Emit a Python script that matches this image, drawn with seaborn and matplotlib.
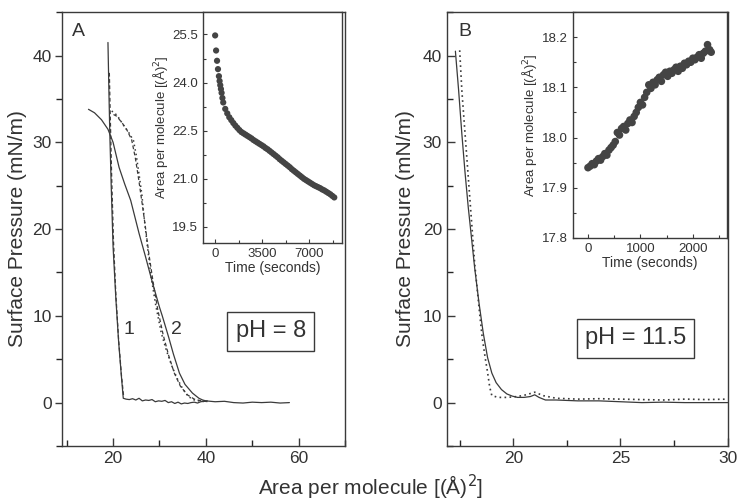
import numpy as np
import pandas as pd
import matplotlib
matplotlib.use("Agg")
import matplotlib.pyplot as plt
from matplotlib.ticker import AutoMinorLocator, MultipleLocator
import seaborn as sns

sns.set_theme(style="ticks")
plt.rcParams['font.family'] = ['Liberation Sans', 'DejaVu Sans']

# ---------------- Panel A data (pH = 8) ----------------
a1_solid_x = [18.9, 19.1, 19.3, 19.6, 20.0, 20.6, 21.2, 21.8, 22.2, 22.8, 23.5, 24.2, 24.9, 25.6,
              26.3, 27.0, 27.7, 28.4, 29.1, 29.8, 30.5, 31.2, 31.9, 32.6, 33.3, 34.0, 34.7,
              35.4, 36.1, 36.8, 37.5, 38.2, 38.9, 39.6, 40.3]
a1_solid_y = [41.5, 36.0, 31.0, 25.0, 18.0, 12.0, 7.0, 3.0, 0.5, 0.4, 0.35, 0.45, 0.3, 0.5,
              0.2, 0.3, 0.25, 0.35, 0.1, 0.2, 0.15, 0.25, 0.0, 0.1, -0.1, 0.05, -0.15,
              -0.05, -0.1, 0.0, 0.05, -0.05, 0.1, 0.15, 0.2]
a1_dash_x = [19.2, 19.4, 19.7, 20.1, 20.6, 21.2, 21.8, 22.3]
a1_dash_y = [38.0, 33.0, 26.0, 18.5, 12.5, 7.2, 3.2, 0.6]

a2_solid_x = [14.7, 16.0, 17.5, 18.9, 20.0, 21.3, 22.5, 23.8, 25.6, 27.0, 28.5, 30.0, 30.6,
              32.0, 33.0, 34.3, 35.5, 37.1, 38.5, 39.3, 40.0, 42.0, 44.0, 46.0, 48.0, 50.0,
              52.0, 54.0, 56.0, 58.0]
a2_solid_y = [33.8, 33.4, 32.6, 31.5, 30.0, 27.1, 25.2, 23.3, 19.5, 16.8, 13.8, 11.0, 10.0,
              7.5, 5.6, 3.4, 2.1, 1.1, 0.5, 0.3, 0.2, 0.1, 0.15, 0.0, -0.05, 0.05, 0.0,
              0.05, -0.05, 0.0]
a2_dot_x = [19.7, 20.3, 21.0, 22.2, 23.3, 24.4, 25.0, 25.6, 26.2, 26.6, 27.4, 28.2, 29.2,
            30.4, 31.5, 32.6, 33.8, 35.0, 36.2, 37.5, 38.5, 40.0]
a2_dot_y = [33.6, 33.4, 33.0, 32.0, 31.2, 30.2, 28.5, 26.3, 24.0, 21.8, 18.0, 14.5, 11.2,
            8.0, 6.0, 4.3, 2.8, 1.6, 0.7, 0.3, 0.2, 0.1]
a2_dash_x = [20.1, 20.8, 22.0, 23.0, 24.0, 24.8, 25.5, 26.2, 26.9, 27.7, 28.6, 29.6, 30.8,
             32.0, 33.2, 34.5, 36.0, 37.5, 39.0, 40.5]
a2_dash_y = [33.2, 33.0, 32.2, 31.4, 30.3, 28.2, 25.8, 23.2, 20.5, 17.2, 14.0, 10.8, 7.8,
             5.4, 3.4, 1.9, 0.9, 0.4, 0.2, 0.1]

# inset A: area vs time
insA_t = [0, 70, 140, 210, 280, 330, 380, 430, 480, 540, 600, 750, 900, 1050, 1200, 1350,
          1500, 1650, 1800, 1950, 2100, 2250, 2400, 2550, 2700, 2850, 3000, 3150, 3300,
          3450, 3600, 3750, 3900, 4050, 4200, 4350, 4500, 4650, 4800, 4950, 5100, 5250,
          5400, 5550, 5700, 5850, 6000, 6150, 6300, 6450, 6600, 6750, 6900, 7050, 7200,
          7350, 7500, 7650, 7800, 7950, 8100, 8250, 8400, 8550, 8700, 8850]
insA_a = [25.47, 25.0, 24.68, 24.42, 24.2, 24.05, 23.92, 23.8, 23.68, 23.52, 23.38, 23.18,
          23.04, 22.92, 22.83, 22.74, 22.66, 22.59, 22.52, 22.46, 22.42, 22.38, 22.34,
          22.30, 22.26, 22.21, 22.17, 22.13, 22.09, 22.05, 22.01, 21.96, 21.92, 21.87,
          21.82, 21.77, 21.72, 21.67, 21.61, 21.56, 21.51, 21.46, 21.41, 21.36, 21.30,
          21.25, 21.20, 21.15, 21.10, 21.05, 21.00, 20.96, 20.92, 20.88, 20.84, 20.80,
          20.77, 20.74, 20.71, 20.67, 20.64, 20.60, 20.56, 20.52, 20.47, 20.42]

# ---------------- Panel B data (pH = 11.5) ----------------
b_solid_x = [17.3, 17.45, 17.6, 17.75, 17.9, 18.05, 18.2, 18.4, 18.6, 18.8, 19.0, 19.2,
             19.45, 19.7, 19.95, 20.2, 20.5, 20.8, 21.0, 21.2, 21.5, 22.0, 22.5, 23.0,
             24.0, 25.0, 26.0, 27.0, 28.0, 29.0, 30.0]
b_solid_y = [40.5, 36.0, 31.0, 26.5, 22.5, 19.0, 15.5, 11.5, 8.0, 5.2, 3.4, 2.3, 1.5, 1.0,
             0.75, 0.6, 0.6, 0.7, 0.9, 0.6, 0.3, 0.3, 0.25, 0.2, 0.2, 0.1, 0.0, 0.05, 0.0,
             0.0, 0.0]
b_dot_x = [17.5, 17.6, 17.75, 17.9, 18.05, 18.2, 18.4, 18.55, 18.7, 18.8, 18.9, 19.0, 19.3,
           19.7, 20.2, 20.6, 21.0, 21.4, 22.0, 23.0, 24.0, 25.0, 26.0, 27.0, 28.0, 29.0, 30.0]
b_dot_y = [40.6, 36.0, 31.0, 26.0, 21.0, 16.0, 11.0, 7.5, 5.0, 3.5, 1.8, 0.8, 0.6, 0.6, 0.7,
           0.9, 1.2, 0.8, 0.5, 0.4, 0.45, 0.4, 0.35, 0.3, 0.4, 0.35, 0.4]

insB_t = [0, 40, 80, 120, 160, 200, 240, 280, 320, 360, 400, 440, 480, 520, 560, 600, 640,
          680, 720, 760, 800, 840, 880, 920, 960, 1000, 1040, 1080, 1120, 1160, 1200, 1240,
          1280, 1320, 1360, 1400, 1440, 1480, 1520, 1560, 1600, 1640, 1680, 1720, 1760,
          1800, 1840, 1880, 1920, 1960, 2000, 2040, 2080, 2120, 2160, 2200, 2240, 2280,
          2320, 2350]
insB_a = [17.940, 17.943, 17.948, 17.946, 17.953, 17.958, 17.955, 17.962, 17.968, 17.965,
          17.975, 17.980, 17.985, 17.992, 18.010, 18.005, 18.018, 18.022, 18.015, 18.028,
          18.035, 18.030, 18.042, 18.050, 18.060, 18.070, 18.065, 18.080, 18.090, 18.105,
          18.098, 18.110, 18.105, 18.115, 18.120, 18.112, 18.125, 18.130, 18.122, 18.132,
          18.128, 18.135, 18.140, 18.132, 18.142, 18.138, 18.148, 18.145, 18.152, 18.150,
          18.158, 18.155, 18.160, 18.165, 18.158, 18.168, 18.172, 18.185, 18.175, 18.170]

INK = "#3a3a3a"
TXT = "#333333"

fig = plt.figure(figsize=(7.41, 5.01), dpi=100)
axA = fig.add_axes([0.0837, 0.1098, 0.382, 0.866])
axB = fig.add_axes([0.603, 0.1098, 0.379, 0.866])
insA = fig.add_axes([0.274, 0.515, 0.188, 0.461])
insB = fig.add_axes([0.773, 0.525, 0.208, 0.451])

def line(ax, x, y, ls, lw=1.0):
    df = pd.DataFrame({"x": x, "y": y})
    sns.lineplot(data=df, x="x", y="y", ax=ax, color=INK, linestyle=ls, linewidth=lw,
                 estimator=None, sort=False)

dotted = (0, (1, 2))
dashed = (0, (3, 2))
line(axA, a1_solid_x, a1_solid_y, "-", 0.9)
line(axA, a1_dash_x, a1_dash_y, dashed, 0.9)
line(axA, a2_solid_x, a2_solid_y, "-", 0.9)
line(axA, a2_dot_x, a2_dot_y, dotted, 1.1)
line(axA, a2_dash_x, a2_dash_y, dashed, 0.9)

line(axB, b_solid_x, b_solid_y, "-", 0.9)
line(axB, b_dot_x, b_dot_y, dotted, 1.2)

sns.scatterplot(x=insA_t, y=insA_a, ax=insA, color="#444444", s=20, edgecolor="none")
sns.scatterplot(x=insB_t, y=insB_a, ax=insB, color="#444444", s=30, edgecolor="none")

for ax in (axA, axB):
    ax.set_ylim(-5, 45)
    ax.set_yticks([0, 10, 20, 30, 40])
    ax.yaxis.set_minor_locator(AutoMinorLocator(2))
    ax.xaxis.set_minor_locator(AutoMinorLocator(2))
    ax.set_xlabel("")
    ax.set_ylabel("Surface Pressure (mN/m)", fontsize=15, color=TXT)
    ax.tick_params(labelsize=12.5, colors=INK, labelcolor=TXT, width=1.0)
    for s in ax.spines.values():
        s.set_visible(True)
        s.set_color(INK)
        s.set_linewidth(1.0)

axA.set_xlim(9, 70)
axA.set_xticks([20, 40, 60])
axA.tick_params(axis="y", which="both", direction="out", pad=2.5)
axA.tick_params(axis="y", which="major", length=5)
axA.tick_params(axis="x", which="both", direction="in")
axA.yaxis.set_label_coords(-0.125, 0.5)

axB.set_xlim(16.9, 30)
axB.set_xticks([20, 25, 30])
axB.tick_params(which="both", direction="in")
axB.tick_params(which="major", length=6)
axB.yaxis.set_label_coords(-0.115, 0.5)

axA.text(0.035, 0.975, "A", transform=axA.transAxes, fontsize=14, color=TXT, va="top")
axB.text(0.04, 0.975, "B", transform=axB.transAxes, fontsize=14, color=TXT, va="top")
axA.text(23.5, 8.4, "1", fontsize=14, color=TXT, ha="center", va="center")
axA.text(33.7, 8.4, "2", fontsize=14, color=TXT, ha="center", va="center")
box = dict(boxstyle="square,pad=0.35", facecolor="white", edgecolor=INK, linewidth=1.0)
axA.text(54, 8.2, "pH = 8", fontsize=17, color=TXT, ha="center", va="center", bbox=box)
axB.text(25.7, 7.4, "pH = 11.5", fontsize=17, color=TXT, ha="center", va="center", bbox=box)

fig.text(0.5, 0.012, "Area per molecule [(Å)$^2$]", fontsize=15, color=TXT, ha="center")

# insets
insA.set_xlim(-900, 9450)
insA.set_ylim(19.0, 26.2)
insA.set_xticks([0, 3500, 7000])
insA.set_yticks([19.5, 21.0, 22.5, 24.0, 25.5])
insA.set_yticklabels(["19.5", "21.0", "22.5", "24.0", "25.5"])

insB.set_xlim(-290, 2650)
insB.set_ylim(17.8, 18.25)
insB.set_xticks([0, 1000, 2000])
insB.set_yticks([17.8, 17.9, 18.0, 18.1, 18.2])

for ax in (insA, insB):
    ax.set_facecolor("white")
    ax.xaxis.set_minor_locator(AutoMinorLocator(2))
    ax.yaxis.set_minor_locator(AutoMinorLocator(2))
    ax.tick_params(which="both", direction="in", labelsize=9.5, colors=INK,
                   labelcolor=TXT, width=0.8)
    ax.tick_params(which="major", length=3)
    ax.tick_params(which="minor", length=2)
    ax.set_xlabel("Time (seconds)", fontsize=10, color=TXT, labelpad=1)
    ax.set_ylabel("Area per molecule [(Å)$^2$]", fontsize=9.5, color=TXT, labelpad=2)
    for s in ax.spines.values():
        s.set_visible(True)
        s.set_color(INK)
        s.set_linewidth(1.0)

fig.savefig("out.png", dpi=100)
